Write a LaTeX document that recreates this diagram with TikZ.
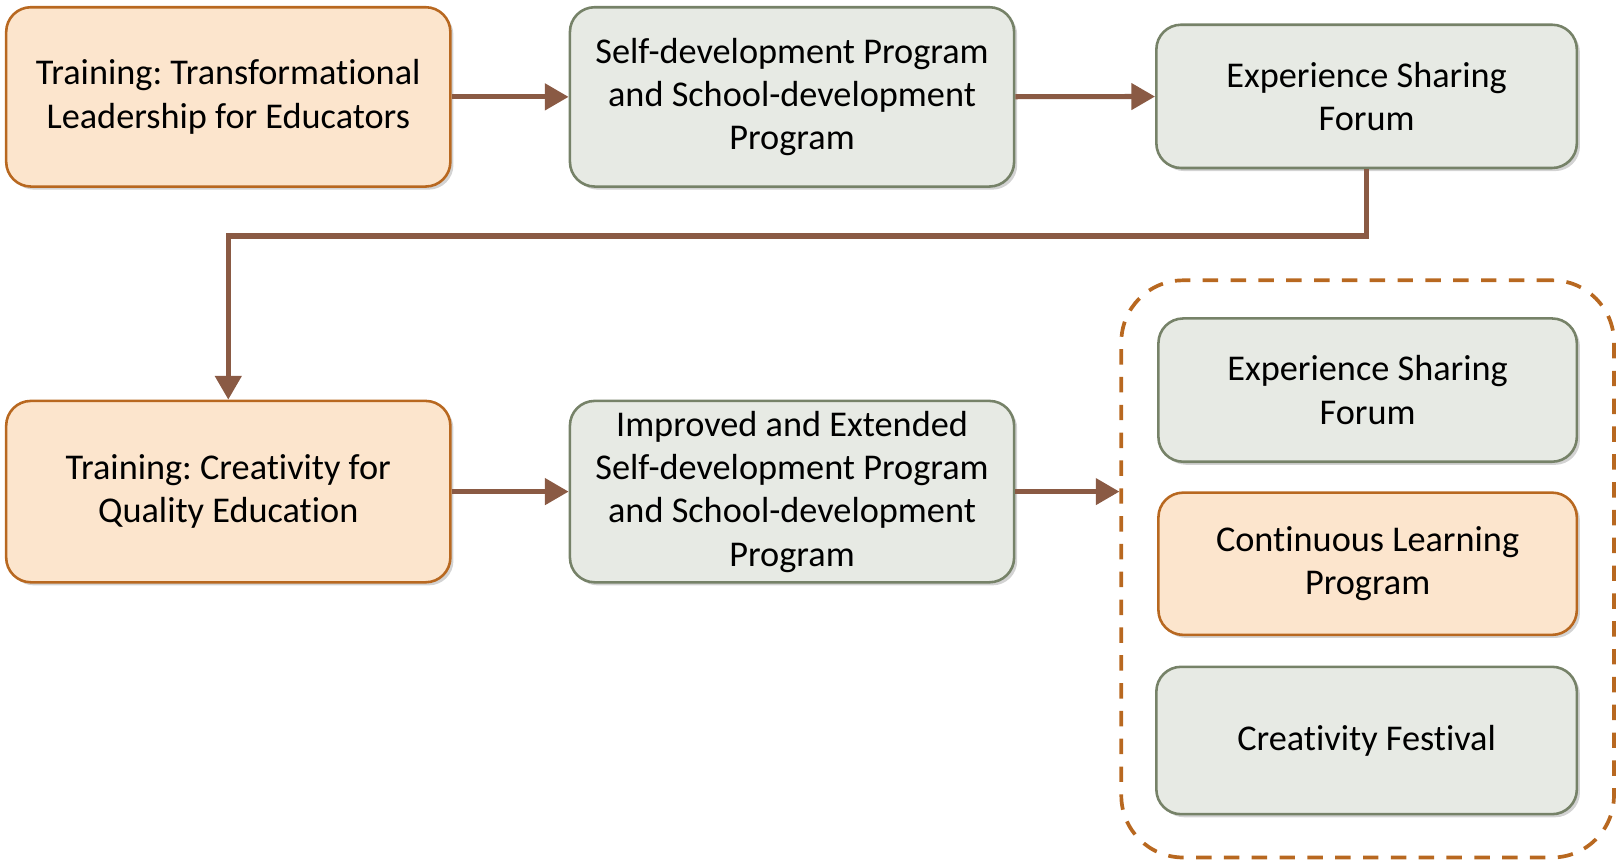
\documentclass[tikz,border=0pt]{standalone}
\usepackage{fontspec}
\setmainfont{Carlito}[Ligatures=NoCommon]
\usetikzlibrary{arrows.meta,shadows}
\frenchspacing

\definecolor{orfill}{RGB}{252,229,205}
\definecolor{ordraw}{RGB}{184,104,32}
\definecolor{grfill}{RGB}{231,234,228}
\definecolor{grdraw}{RGB}{118,130,104}
\definecolor{arrbrown}{RGB}{138,90,68}

\begin{document}
\begin{tikzpicture}[x=0.5pt,y=-0.5pt,
  box/.style={rounded corners=12pt, line width=1.25pt, align=center,
    font=\fontsize{17.6}{21}\selectfont, inner sep=0pt,
    drop shadow={opacity=0.35, shadow xshift=1.5pt, shadow yshift=-1.5pt}},
  orbox/.style={box, draw=ordraw, fill=orfill},
  grbox/.style={box, draw=grdraw, fill=grfill},
  flow/.style={draw=arrbrown, line width=2.5pt, -{Triangle[length=11.5pt,width=12.5pt]}},
  group/.style={draw=ordraw, line width=1.8pt, dash pattern=on 7.5pt off 6pt, rounded corners=30pt}]
\useasboundingbox (0,0) rectangle (1568,834.5);

% first row
\node[orbox, minimum width=215.5pt, minimum height=87pt] (lead) at (221.5,94) {Training: Transformational\\Leadership for Educators};
\node[grbox, minimum width=215.5pt, minimum height=87pt] (selfdev) at (768.5,94) {Self-development Program\\and School-development\\Program};
\node[grbox, minimum width=204pt, minimum height=69.5pt] (forum) at (1326,93.5) {Experience Sharing\\Forum};

% second row
\node[orbox, minimum width=215.5pt, minimum height=88pt] (creat) at (221.5,477) {Training: Creativity for\\Quality Education};
\node[grbox, minimum width=215.5pt, minimum height=88pt] (improved) at (768.5,477) {Improved and Extended\\Self-development Program\\and School-development\\Program};

% dashed group
\node[group, minimum width=239pt, minimum height=280pt] (grp) at (1327,552) {};
\node[grbox, minimum width=203pt, minimum height=69.5pt] (forumb) at (1327,378.5) {Experience Sharing\\Forum};
\node[orbox, minimum width=203pt, minimum height=69pt] (learn) at (1327,547) {Continuous Learning\\Program};
\node[grbox, minimum width=204pt, minimum height=71.5pt] (fest) at (1326,718.5) {Creativity Festival};

% connectors
\coordinate (turn) at (1326,229);
\draw[flow] (lead) -- (selfdev);
\draw[flow] (selfdev) -- (forum);
\draw[flow] (forum.south) -- (turn) -| (creat.north);
\draw[flow] (creat) -- (improved);
\draw[flow] (improved.east) -- (improved.east -| grp.west);

\end{tikzpicture}
\end{document}
